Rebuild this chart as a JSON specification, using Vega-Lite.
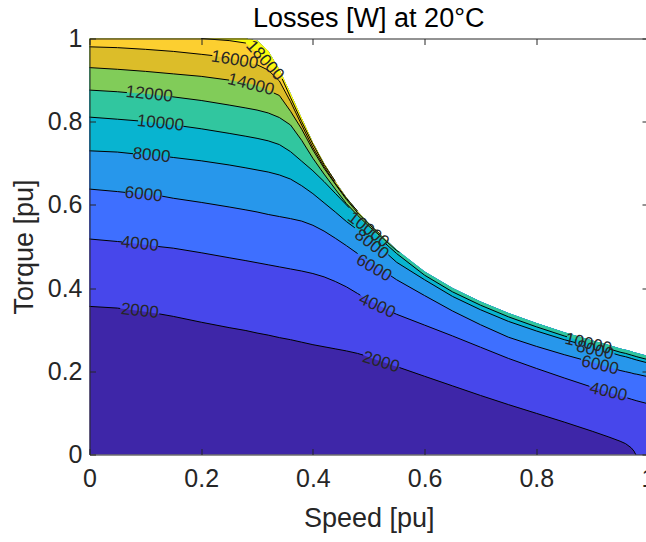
{
  "$schema": "https://vega.github.io/schema/vega-lite/v6.json",
  "autosize": {"type": "none"},
  "padding": {"left": 89.5, "top": 38.5, "right": -2, "bottom": 87.5},
  "width": 558.5,
  "height": 416,
  "background": "white",
  "config": {"font": "Liberation Sans", "view": {"stroke": null}, "text": {"fontSize": 17, "color": "#262626", "align": "center", "baseline": "middle"}},
  "title": {"text": "Losses [W] at 20°C", "fontSize": 27, "fontWeight": "normal", "color": "#000000", "font": "Liberation Sans", "anchor": "middle", "frame": "group", "offset": -6},
  "datasets": {
    "env": [
      {"speed":0,"tmax":1},{"speed":0.05,"tmax":1},{"speed":0.055,"tmax":1},{"speed":0.058,"tmax":1},{"speed":0.064,"tmax":1},{"speed":0.067,"tmax":1},{"speed":0.078,"tmax":1},{"speed":0.087,"tmax":1},{"speed":0.1,"tmax":1},{"speed":0.123,"tmax":1},{"speed":0.125,"tmax":1},{"speed":0.13,"tmax":1},{"speed":0.144,"tmax":1},{"speed":0.148,"tmax":1},{"speed":0.15,"tmax":1},{"speed":0.168,"tmax":1},{"speed":0.2,"tmax":1},{"speed":0.22,"tmax":1},{"speed":0.25,"tmax":1},{"speed":0.28,"tmax":1},{"speed":0.3,"tmax":0.995},{"speed":0.32,"tmax":0.97},{"speed":0.33,"tmax":0.948},{"speed":0.34,"tmax":0.925},{"speed":0.345,"tmax":0.911},{"speed":0.36,"tmax":0.868},{"speed":0.38,"tmax":0.808},{"speed":0.4,"tmax":0.75},{"speed":0.42,"tmax":0.7},{"speed":0.44,"tmax":0.657},{"speed":0.46,"tmax":0.618},{"speed":0.465,"tmax":0.61},{"speed":0.475,"tmax":0.594},{"speed":0.48,"tmax":0.585},{"speed":0.485,"tmax":0.578},{"speed":0.49,"tmax":0.57},{"speed":0.5,"tmax":0.556},{"speed":0.52,"tmax":0.53},{"speed":0.53,"tmax":0.517},{"speed":0.535,"tmax":0.511},{"speed":0.54,"tmax":0.505},{"speed":0.545,"tmax":0.498},{"speed":0.55,"tmax":0.492},{"speed":0.555,"tmax":0.486},{"speed":0.6,"tmax":0.44},{"speed":0.65,"tmax":0.4},{"speed":0.7,"tmax":0.368},{"speed":0.75,"tmax":0.34},{"speed":0.8,"tmax":0.316},{"speed":0.85,"tmax":0.294},{"speed":0.855,"tmax":0.292},{"speed":0.87,"tmax":0.286},{"speed":0.88,"tmax":0.282},{"speed":0.895,"tmax":0.276},{"speed":0.9,"tmax":0.274},{"speed":0.93,"tmax":0.263},{"speed":0.94,"tmax":0.259},{"speed":0.945,"tmax":0.257},{"speed":0.95,"tmax":0.255},{"speed":0.96,"tmax":0.252},{"speed":0.963,"tmax":0.251},{"speed":0.97,"tmax":0.248},{"speed":0.975,"tmax":0.246},{"speed":0.978,"tmax":0.245},{"speed":0.98,"tmax":0.244},{"speed":1,"tmax":0.237}
    ],
    "contours": [
      {"level":0,"speed":0,"torque":0,"seg":0},{"level":0,"speed":0.05,"torque":0,"seg":0},{"level":0,"speed":0.1,"torque":0,"seg":0},{"level":0,"speed":0.15,"torque":0,"seg":0},{"level":0,"speed":0.2,"torque":0,"seg":0},{"level":0,"speed":0.25,"torque":0,"seg":0},{"level":0,"speed":0.28,"torque":0,"seg":0},{"level":0,"speed":0.3,"torque":0,"seg":0},{"level":0,"speed":0.32,"torque":0,"seg":0},{"level":0,"speed":0.34,"torque":0,"seg":0},{"level":0,"speed":0.36,"torque":0,"seg":0},{"level":0,"speed":0.38,"torque":0,"seg":0},{"level":0,"speed":0.4,"torque":0,"seg":0},{"level":0,"speed":0.42,"torque":0,"seg":0},{"level":0,"speed":0.44,"torque":0,"seg":0},{"level":0,"speed":0.46,"torque":0,"seg":0},{"level":0,"speed":0.48,"torque":0,"seg":0},{"level":0,"speed":0.5,"torque":0,"seg":0},{"level":0,"speed":0.52,"torque":0,"seg":0},{"level":0,"speed":0.55,"torque":0,"seg":0},{"level":0,"speed":0.6,"torque":0,"seg":0},{"level":0,"speed":0.65,"torque":0,"seg":0},{"level":0,"speed":0.7,"torque":0,"seg":0},{"level":0,"speed":0.75,"torque":0,"seg":0},{"level":0,"speed":0.8,"torque":0,"seg":0},{"level":0,"speed":0.85,"torque":0,"seg":0},{"level":0,"speed":0.9,"torque":0,"seg":0},{"level":0,"speed":0.93,"torque":0,"seg":0},{"level":0,"speed":0.95,"torque":0,"seg":0},{"level":0,"speed":0.96,"torque":0,"seg":0},{"level":0,"speed":0.97,"torque":0,"seg":0},{"level":0,"speed":0.975,"torque":0,"seg":0},{"level":0,"speed":0.98,"torque":0,"seg":0},{"level":0,"speed":1,"torque":0,"seg":0},

      {"level":2000,"speed":0,"torque":0.356,"seg":1},{"level":2000,"speed":0.05,"torque":0.352,"seg":1},{"level":2000,"speed":0.055,"torque":0.351,"seg":1},{"level":2000,"speed":0.1,"torque":0.343,"seg":0},{"level":2000,"speed":0.125,"torque":0.338,"seg":2},{"level":2000,"speed":0.15,"torque":0.332,"seg":2},{"level":2000,"speed":0.2,"torque":0.318,"seg":2},{"level":2000,"speed":0.25,"torque":0.305,"seg":2},{"level":2000,"speed":0.28,"torque":0.298,"seg":2},{"level":2000,"speed":0.3,"torque":0.292,"seg":2},{"level":2000,"speed":0.32,"torque":0.287,"seg":2},{"level":2000,"speed":0.34,"torque":0.281,"seg":2},{"level":2000,"speed":0.36,"torque":0.276,"seg":2},{"level":2000,"speed":0.38,"torque":0.27,"seg":2},{"level":2000,"speed":0.4,"torque":0.264,"seg":2},{"level":2000,"speed":0.42,"torque":0.259,"seg":2},{"level":2000,"speed":0.44,"torque":0.254,"seg":2},{"level":2000,"speed":0.46,"torque":0.249,"seg":2},{"level":2000,"speed":0.48,"torque":0.243,"seg":2},{"level":2000,"speed":0.49,"torque":0.239,"seg":2},{"level":2000,"speed":0.5,"torque":0.234,"seg":0},{"level":2000,"speed":0.52,"torque":0.225,"seg":0},{"level":2000,"speed":0.55,"torque":0.211,"seg":0},{"level":2000,"speed":0.555,"torque":0.209,"seg":3},{"level":2000,"speed":0.6,"torque":0.188,"seg":3},{"level":2000,"speed":0.65,"torque":0.165,"seg":3},{"level":2000,"speed":0.7,"torque":0.142,"seg":3},{"level":2000,"speed":0.75,"torque":0.12,"seg":3},{"level":2000,"speed":0.8,"torque":0.099,"seg":3},{"level":2000,"speed":0.85,"torque":0.078,"seg":3},{"level":2000,"speed":0.9,"torque":0.056,"seg":3},{"level":2000,"speed":0.93,"torque":0.042,"seg":3},{"level":2000,"speed":0.95,"torque":0.032,"seg":3},{"level":2000,"speed":0.96,"torque":0.026,"seg":3},{"level":2000,"speed":0.97,"torque":0.016,"seg":3},{"level":2000,"speed":0.975,"torque":0.008,"seg":3},{"level":2000,"speed":0.978,"torque":0,"seg":3},{"level":2000,"speed":1,"torque":0,"seg":0},

      {"level":4000,"speed":0,"torque":0.518,"seg":1},{"level":4000,"speed":0.05,"torque":0.512,"seg":1},{"level":4000,"speed":0.058,"torque":0.511,"seg":1},{"level":4000,"speed":0.1,"torque":0.504,"seg":0},{"level":4000,"speed":0.123,"torque":0.5,"seg":2},{"level":4000,"speed":0.15,"torque":0.496,"seg":2},{"level":4000,"speed":0.2,"torque":0.485,"seg":2},{"level":4000,"speed":0.25,"torque":0.473,"seg":2},{"level":4000,"speed":0.28,"torque":0.466,"seg":2},{"level":4000,"speed":0.3,"torque":0.461,"seg":2},{"level":4000,"speed":0.32,"torque":0.456,"seg":2},{"level":4000,"speed":0.34,"torque":0.451,"seg":2},{"level":4000,"speed":0.36,"torque":0.446,"seg":2},{"level":4000,"speed":0.38,"torque":0.441,"seg":2},{"level":4000,"speed":0.4,"torque":0.435,"seg":2},{"level":4000,"speed":0.42,"torque":0.427,"seg":2},{"level":4000,"speed":0.44,"torque":0.416,"seg":2},{"level":4000,"speed":0.46,"torque":0.403,"seg":2},{"level":4000,"speed":0.48,"torque":0.387,"seg":2},{"level":4000,"speed":0.485,"torque":0.383,"seg":2},{"level":4000,"speed":0.5,"torque":0.372,"seg":0},{"level":4000,"speed":0.52,"torque":0.357,"seg":0},{"level":4000,"speed":0.545,"torque":0.34,"seg":3},{"level":4000,"speed":0.55,"torque":0.337,"seg":3},{"level":4000,"speed":0.6,"torque":0.311,"seg":3},{"level":4000,"speed":0.65,"torque":0.285,"seg":3},{"level":4000,"speed":0.7,"torque":0.258,"seg":3},{"level":4000,"speed":0.75,"torque":0.231,"seg":3},{"level":4000,"speed":0.8,"torque":0.207,"seg":3},{"level":4000,"speed":0.85,"torque":0.184,"seg":3},{"level":4000,"speed":0.895,"torque":0.164,"seg":3},{"level":4000,"speed":0.9,"torque":0.162,"seg":0},{"level":4000,"speed":0.93,"torque":0.149,"seg":0},{"level":4000,"speed":0.95,"torque":0.141,"seg":0},{"level":4000,"speed":0.96,"torque":0.137,"seg":0},{"level":4000,"speed":0.963,"torque":0.136,"seg":4},{"level":4000,"speed":0.97,"torque":0.133,"seg":4},{"level":4000,"speed":0.975,"torque":0.131,"seg":4},{"level":4000,"speed":0.98,"torque":0.129,"seg":4},{"level":4000,"speed":1,"torque":0.122,"seg":4},

      {"level":6000,"speed":0,"torque":0.638,"seg":1},{"level":6000,"speed":0.05,"torque":0.632,"seg":1},{"level":6000,"speed":0.064,"torque":0.63,"seg":1},{"level":6000,"speed":0.1,"torque":0.625,"seg":0},{"level":6000,"speed":0.13,"torque":0.621,"seg":2},{"level":6000,"speed":0.15,"torque":0.616,"seg":2},{"level":6000,"speed":0.2,"torque":0.606,"seg":2},{"level":6000,"speed":0.25,"torque":0.595,"seg":2},{"level":6000,"speed":0.28,"torque":0.588,"seg":2},{"level":6000,"speed":0.3,"torque":0.583,"seg":2},{"level":6000,"speed":0.32,"torque":0.577,"seg":2},{"level":6000,"speed":0.34,"torque":0.572,"seg":2},{"level":6000,"speed":0.36,"torque":0.567,"seg":2},{"level":6000,"speed":0.38,"torque":0.561,"seg":2},{"level":6000,"speed":0.4,"torque":0.551,"seg":2},{"level":6000,"speed":0.42,"torque":0.537,"seg":2},{"level":6000,"speed":0.44,"torque":0.52,"seg":2},{"level":6000,"speed":0.46,"torque":0.502,"seg":2},{"level":6000,"speed":0.48,"torque":0.483,"seg":2},{"level":6000,"speed":0.5,"torque":0.465,"seg":0},{"level":6000,"speed":0.52,"torque":0.447,"seg":0},{"level":6000,"speed":0.54,"torque":0.429,"seg":3},{"level":6000,"speed":0.55,"torque":0.42,"seg":3},{"level":6000,"speed":0.6,"torque":0.382,"seg":3},{"level":6000,"speed":0.65,"torque":0.345,"seg":3},{"level":6000,"speed":0.7,"torque":0.312,"seg":3},{"level":6000,"speed":0.75,"torque":0.282,"seg":3},{"level":6000,"speed":0.8,"torque":0.26,"seg":3},{"level":6000,"speed":0.85,"torque":0.24,"seg":3},{"level":6000,"speed":0.88,"torque":0.229,"seg":3},{"level":6000,"speed":0.9,"torque":0.222,"seg":0},{"level":6000,"speed":0.93,"torque":0.21,"seg":0},{"level":6000,"speed":0.945,"torque":0.204,"seg":4},{"level":6000,"speed":0.95,"torque":0.202,"seg":4},{"level":6000,"speed":0.96,"torque":0.199,"seg":4},{"level":6000,"speed":0.97,"torque":0.196,"seg":4},{"level":6000,"speed":0.975,"torque":0.194,"seg":4},{"level":6000,"speed":0.98,"torque":0.193,"seg":4},{"level":6000,"speed":1,"torque":0.187,"seg":4},

      {"level":8000,"speed":0,"torque":0.73,"seg":1},{"level":8000,"speed":0.05,"torque":0.727,"seg":1},{"level":8000,"speed":0.078,"torque":0.723,"seg":1},{"level":8000,"speed":0.1,"torque":0.721,"seg":0},{"level":8000,"speed":0.144,"torque":0.715,"seg":2},{"level":8000,"speed":0.15,"torque":0.714,"seg":2},{"level":8000,"speed":0.2,"torque":0.706,"seg":2},{"level":8000,"speed":0.25,"torque":0.696,"seg":2},{"level":8000,"speed":0.28,"torque":0.689,"seg":2},{"level":8000,"speed":0.3,"torque":0.684,"seg":2},{"level":8000,"speed":0.32,"torque":0.679,"seg":2},{"level":8000,"speed":0.34,"torque":0.672,"seg":2},{"level":8000,"speed":0.36,"torque":0.662,"seg":2},{"level":8000,"speed":0.38,"torque":0.646,"seg":2},{"level":8000,"speed":0.4,"torque":0.627,"seg":2},{"level":8000,"speed":0.42,"torque":0.605,"seg":2},{"level":8000,"speed":0.44,"torque":0.583,"seg":2},{"level":8000,"speed":0.46,"torque":0.56,"seg":2},{"level":8000,"speed":0.475,"torque":0.545,"seg":2},{"level":8000,"speed":0.48,"torque":0.54,"seg":0},{"level":8000,"speed":0.5,"torque":0.52,"seg":0},{"level":8000,"speed":0.52,"torque":0.497,"seg":0},{"level":8000,"speed":0.535,"torque":0.48,"seg":3},{"level":8000,"speed":0.55,"torque":0.462,"seg":3},{"level":8000,"speed":0.6,"torque":0.42,"seg":3},{"level":8000,"speed":0.65,"torque":0.38,"seg":3},{"level":8000,"speed":0.7,"torque":0.348,"seg":3},{"level":8000,"speed":0.75,"torque":0.32,"seg":3},{"level":8000,"speed":0.8,"torque":0.297,"seg":3},{"level":8000,"speed":0.85,"torque":0.276,"seg":3},{"level":8000,"speed":0.87,"torque":0.269,"seg":3},{"level":8000,"speed":0.9,"torque":0.257,"seg":0},{"level":8000,"speed":0.93,"torque":0.246,"seg":0},{"level":8000,"speed":0.94,"torque":0.242,"seg":4},{"level":8000,"speed":0.95,"torque":0.238,"seg":4},{"level":8000,"speed":0.96,"torque":0.235,"seg":4},{"level":8000,"speed":0.97,"torque":0.231,"seg":4},{"level":8000,"speed":0.975,"torque":0.229,"seg":4},{"level":8000,"speed":0.98,"torque":0.227,"seg":4},{"level":8000,"speed":1,"torque":0.22,"seg":4},

      {"level":10000,"speed":0,"torque":0.811,"seg":1},{"level":10000,"speed":0.05,"torque":0.806,"seg":1},{"level":10000,"speed":0.087,"torque":0.802,"seg":1},{"level":10000,"speed":0.1,"torque":0.8,"seg":0},{"level":10000,"speed":0.15,"torque":0.792,"seg":0},{"level":10000,"speed":0.168,"torque":0.789,"seg":2},{"level":10000,"speed":0.2,"torque":0.783,"seg":2},{"level":10000,"speed":0.25,"torque":0.772,"seg":2},{"level":10000,"speed":0.28,"torque":0.765,"seg":2},{"level":10000,"speed":0.3,"torque":0.76,"seg":2},{"level":10000,"speed":0.32,"torque":0.754,"seg":2},{"level":10000,"speed":0.34,"torque":0.745,"seg":2},{"level":10000,"speed":0.36,"torque":0.728,"seg":2},{"level":10000,"speed":0.38,"torque":0.705,"seg":2},{"level":10000,"speed":0.4,"torque":0.682,"seg":2},{"level":10000,"speed":0.42,"torque":0.656,"seg":2},{"level":10000,"speed":0.44,"torque":0.628,"seg":2},{"level":10000,"speed":0.46,"torque":0.6,"seg":2},{"level":10000,"speed":0.465,"torque":0.593,"seg":2},{"level":10000,"speed":0.48,"torque":0.571,"seg":0},{"level":10000,"speed":0.5,"torque":0.545,"seg":0},{"level":10000,"speed":0.52,"torque":0.52,"seg":0},{"level":10000,"speed":0.53,"torque":0.507,"seg":3},{"level":10000,"speed":0.55,"torque":0.483,"seg":3},{"level":10000,"speed":0.6,"torque":0.431,"seg":3},{"level":10000,"speed":0.65,"torque":0.391,"seg":3},{"level":10000,"speed":0.7,"torque":0.359,"seg":3},{"level":10000,"speed":0.75,"torque":0.331,"seg":3},{"level":10000,"speed":0.8,"torque":0.307,"seg":3},{"level":10000,"speed":0.85,"torque":0.285,"seg":3},{"level":10000,"speed":0.855,"torque":0.283,"seg":3},{"level":10000,"speed":0.9,"torque":0.265,"seg":0},{"level":10000,"speed":0.93,"torque":0.254,"seg":4},{"level":10000,"speed":0.95,"torque":0.246,"seg":4},{"level":10000,"speed":0.96,"torque":0.243,"seg":4},{"level":10000,"speed":0.97,"torque":0.239,"seg":4},{"level":10000,"speed":0.975,"torque":0.237,"seg":4},{"level":10000,"speed":0.98,"torque":0.235,"seg":4},{"level":10000,"speed":1,"torque":0.228,"seg":4},

      {"level":12000,"speed":0,"torque":0.876,"seg":1},{"level":12000,"speed":0.05,"torque":0.872,"seg":1},{"level":12000,"speed":0.067,"torque":0.87,"seg":1},{"level":12000,"speed":0.1,"torque":0.867,"seg":0},{"level":12000,"speed":0.148,"torque":0.86,"seg":2},{"level":12000,"speed":0.2,"torque":0.851,"seg":2},{"level":12000,"speed":0.25,"torque":0.84,"seg":2},{"level":12000,"speed":0.28,"torque":0.833,"seg":2},{"level":12000,"speed":0.3,"torque":0.828,"seg":2},{"level":12000,"speed":0.32,"torque":0.821,"seg":2},{"level":12000,"speed":0.34,"torque":0.81,"seg":2},{"level":12000,"speed":0.36,"torque":0.792,"seg":2},{"level":12000,"speed":0.38,"torque":0.755,"seg":2},{"level":12000,"speed":0.4,"torque":0.712,"seg":2},{"level":12000,"speed":0.42,"torque":0.674,"seg":2},{"level":12000,"speed":0.44,"torque":0.638,"seg":2},{"level":12000,"speed":0.46,"torque":0.603,"seg":2},{"level":12000,"speed":0.48,"torque":0.575,"seg":2},{"level":12000,"speed":0.5,"torque":0.549,"seg":2},{"level":12000,"speed":0.52,"torque":0.526,"seg":2},{"level":12000,"speed":0.55,"torque":0.49,"seg":2},{"level":12000,"speed":0.555,"torque":0.486,"seg":2},

      {"level":14000,"speed":0,"torque":0.93,"seg":1},{"level":14000,"speed":0.05,"torque":0.926,"seg":1},{"level":14000,"speed":0.1,"torque":0.921,"seg":1},{"level":14000,"speed":0.15,"torque":0.915,"seg":1},{"level":14000,"speed":0.2,"torque":0.909,"seg":1},{"level":14000,"speed":0.25,"torque":0.9,"seg":1},{"level":14000,"speed":0.28,"torque":0.893,"seg":0},{"level":14000,"speed":0.3,"torque":0.887,"seg":0},{"level":14000,"speed":0.32,"torque":0.875,"seg":0},{"level":14000,"speed":0.33,"torque":0.869,"seg":2},{"level":14000,"speed":0.34,"torque":0.863,"seg":2},{"level":14000,"speed":0.36,"torque":0.825,"seg":2},{"level":14000,"speed":0.38,"torque":0.782,"seg":2},{"level":14000,"speed":0.4,"torque":0.732,"seg":2},{"level":14000,"speed":0.42,"torque":0.688,"seg":2},{"level":14000,"speed":0.44,"torque":0.65,"seg":2},{"level":14000,"speed":0.46,"torque":0.613,"seg":2},{"level":14000,"speed":0.48,"torque":0.581,"seg":2},{"level":14000,"speed":0.5,"torque":0.554,"seg":2},{"level":14000,"speed":0.52,"torque":0.53,"seg":2},

      {"level":16000,"speed":0,"torque":0.98,"seg":1},{"level":16000,"speed":0.05,"torque":0.978,"seg":1},{"level":16000,"speed":0.1,"torque":0.974,"seg":1},{"level":16000,"speed":0.15,"torque":0.969,"seg":1},{"level":16000,"speed":0.2,"torque":0.962,"seg":1},{"level":16000,"speed":0.22,"torque":0.959,"seg":1},{"level":16000,"speed":0.25,"torque":0.952,"seg":0},{"level":16000,"speed":0.28,"torque":0.944,"seg":0},{"level":16000,"speed":0.3,"torque":0.937,"seg":2},{"level":16000,"speed":0.32,"torque":0.924,"seg":2},{"level":16000,"speed":0.34,"torque":0.898,"seg":2},{"level":16000,"speed":0.36,"torque":0.848,"seg":2},{"level":16000,"speed":0.38,"torque":0.792,"seg":2},{"level":16000,"speed":0.4,"torque":0.738,"seg":2},{"level":16000,"speed":0.42,"torque":0.692,"seg":2},{"level":16000,"speed":0.44,"torque":0.652,"seg":2},{"level":16000,"speed":0.46,"torque":0.616,"seg":2},{"level":16000,"speed":0.48,"torque":0.585,"seg":2},

      {"level":18000,"speed":0.2,"torque":1,"seg":1},{"level":18000,"speed":0.25,"torque":0.995,"seg":1},{"level":18000,"speed":0.28,"torque":0.989,"seg":1},{"level":18000,"speed":0.3,"torque":0.965,"seg":0},{"level":18000,"speed":0.32,"torque":0.935,"seg":0},{"level":18000,"speed":0.34,"torque":0.912,"seg":0},{"level":18000,"speed":0.345,"torque":0.903,"seg":2},{"level":18000,"speed":0.36,"torque":0.858,"seg":2},{"level":18000,"speed":0.38,"torque":0.8,"seg":2},{"level":18000,"speed":0.4,"torque":0.746,"seg":2},{"level":18000,"speed":0.42,"torque":0.697,"seg":2},{"level":18000,"speed":0.44,"torque":0.657,"seg":2}
    ],
    "labels": [
      {"text":"2000","speed":0.09,"torque":0.345,"grp":"left"},
      {"text":"4000","speed":0.09,"torque":0.506,"grp":"left"},
      {"text":"6000","speed":0.097,"torque":0.625,"grp":"left"},
      {"text":"8000","speed":0.111,"torque":0.719,"grp":"left"},
      {"text":"10000","speed":0.127,"torque":0.796,"grp":"left"},
      {"text":"12000","speed":0.107,"torque":0.866,"grp":"left"},
      {"text":"14000","speed":0.289,"torque":0.889,"grp":"c14"},
      {"text":"16000","speed":0.26,"torque":0.948,"grp":"c16"},
      {"text":"18000","speed":0.314,"torque":0.947,"grp":"c18"},
      {"text":"2000","speed":0.522,"torque":0.222,"grp":"m2"},
      {"text":"4000","speed":0.515,"torque":0.357,"grp":"m4"},
      {"text":"6000","speed":0.509,"torque":0.448,"grp":"m6"},
      {"text":"8000","speed":0.505,"torque":0.505,"grp":"m8"},
      {"text":"10000","speed":0.499,"torque":0.54,"grp":"m8"},
      {"text":"10000","speed":0.893,"torque":0.266,"grp":"right"},
      {"text":"8000","speed":0.905,"torque":0.25,"grp":"right"},
      {"text":"6000","speed":0.914,"torque":0.214,"grp":"right"},
      {"text":"4000","speed":0.929,"torque":0.15,"grp":"right"}
    ]
  },
  "resolve": {"axis": {"x": "independent", "y": "independent"}},
  "layer": [
    {
      "data": {"name": "contours"},
      "transform": [
        {"lookup": "speed", "from": {"data": {"name": "env"}, "key": "speed", "fields": ["tmax"]}}
      ],
      "mark": {"type": "area", "interpolate": "linear"},
      "encoding": {
        "x": {"field": "speed", "type": "quantitative", "scale": {"domain": [0, 1], "nice": false, "zero": false},
          "axis": {"orient": "bottom", "values": [0, 0.2, 0.4, 0.6, 0.8, 1], "format": "~g", "grid": false, "zindex": 1,
            "tickSize": -6, "tickColor": "#262626", "tickWidth": 1, "domainColor": "#262626", "domainWidth": 1,
            "labelFontSize": 25, "labelColor": "#262626", "labelPadding": 18, "labelFlush": false, "labelOverlap": false,
            "title": "Speed [pu]", "titleFontSize": 27, "titleFontWeight": "normal", "titleColor": "#262626", "titlePadding": 14}},
        "y": {"field": "torque", "type": "quantitative", "scale": {"domain": [0, 1], "nice": false, "zero": false},
          "axis": {"orient": "left", "values": [0, 0.2, 0.4, 0.6, 0.8, 1], "format": "~g", "grid": false, "zindex": 1,
            "tickSize": -6, "tickColor": "#262626", "tickWidth": 1, "domainColor": "#262626", "domainWidth": 1,
            "labelFontSize": 25, "labelColor": "#262626", "labelPadding": 13.5, "labelFlush": false, "labelOverlap": false,
            "title": "Torque [pu]", "titleFontSize": 27, "titleFontWeight": "normal", "titleColor": "#262626", "titlePadding": 9}},
        "y2": {"field": "tmax"},
        "color": {"field": "level", "type": "ordinal", "legend": null,
          "scale": {"domain": [0, 2000, 4000, 6000, 8000, 10000, 12000, 14000, 16000, 18000],
            "range": ["#3E26A8", "#4747EB", "#3E6FFF", "#2797EB", "#08B4D0", "#31C69F", "#81CC59", "#DCBD29", "#FCCF30", "#F9FB0E"]}}
      }
    },
    {
      "data": {"name": "contours"},
      "transform": [{"filter": "datum.level > 0 && datum.seg > 0"}],
      "mark": {"type": "line", "color": "#000000", "strokeWidth": 1, "interpolate": "linear"},
      "encoding": {
        "x": {"field": "speed", "type": "quantitative",
          "axis": {"orient": "top", "values": [0, 0.2, 0.4, 0.6, 0.8, 1], "labels": false, "title": null, "grid": false, "zindex": 1,
            "tickSize": -6, "tickColor": "#262626", "tickWidth": 1, "domainColor": "#262626", "domainWidth": 1}},
        "y": {"field": "torque", "type": "quantitative",
          "axis": {"orient": "right", "values": [0, 0.2, 0.4, 0.6, 0.8, 1], "labels": false, "title": null, "grid": false, "zindex": 1,
            "tickSize": -6, "tickColor": "#262626", "tickWidth": 1, "domainColor": "#262626", "domainWidth": 1}},
        "detail": [{"field": "level", "type": "nominal"}, {"field": "seg", "type": "nominal"}]
      }
    },
    {
      "data": {"name": "labels"}, "transform": [{"filter": "datum.grp === 'left'"}],
      "mark": {"type": "text", "angle": 6},
      "encoding": {"x": {"field": "speed", "type": "quantitative", "axis": null}, "y": {"field": "torque", "type": "quantitative", "axis": null}, "text": {"field": "text"}}
    },
    {
      "data": {"name": "labels"}, "transform": [{"filter": "datum.grp === 'c14'"}],
      "mark": {"type": "text", "angle": 14},
      "encoding": {"x": {"field": "speed", "type": "quantitative", "axis": null}, "y": {"field": "torque", "type": "quantitative", "axis": null}, "text": {"field": "text"}}
    },
    {
      "data": {"name": "labels"}, "transform": [{"filter": "datum.grp === 'c16'"}],
      "mark": {"type": "text", "angle": 9},
      "encoding": {"x": {"field": "speed", "type": "quantitative", "axis": null}, "y": {"field": "torque", "type": "quantitative", "axis": null}, "text": {"field": "text"}}
    },
    {
      "data": {"name": "labels"}, "transform": [{"filter": "datum.grp === 'c18'"}],
      "mark": {"type": "text", "angle": 48},
      "encoding": {"x": {"field": "speed", "type": "quantitative", "axis": null}, "y": {"field": "torque", "type": "quantitative", "axis": null}, "text": {"field": "text"}}
    },
    {
      "data": {"name": "labels"}, "transform": [{"filter": "datum.grp === 'm2'"}],
      "mark": {"type": "text", "angle": 17},
      "encoding": {"x": {"field": "speed", "type": "quantitative", "axis": null}, "y": {"field": "torque", "type": "quantitative", "axis": null}, "text": {"field": "text"}}
    },
    {
      "data": {"name": "labels"}, "transform": [{"filter": "datum.grp === 'm4'"}],
      "mark": {"type": "text", "angle": 24},
      "encoding": {"x": {"field": "speed", "type": "quantitative", "axis": null}, "y": {"field": "torque", "type": "quantitative", "axis": null}, "text": {"field": "text"}}
    },
    {
      "data": {"name": "labels"}, "transform": [{"filter": "datum.grp === 'm6'"}],
      "mark": {"type": "text", "angle": 30},
      "encoding": {"x": {"field": "speed", "type": "quantitative", "axis": null}, "y": {"field": "torque", "type": "quantitative", "axis": null}, "text": {"field": "text"}}
    },
    {
      "data": {"name": "labels"}, "transform": [{"filter": "datum.grp === 'm8'"}],
      "mark": {"type": "text", "angle": 38},
      "encoding": {"x": {"field": "speed", "type": "quantitative", "axis": null}, "y": {"field": "torque", "type": "quantitative", "axis": null}, "text": {"field": "text"}}
    },
    {
      "data": {"name": "labels"}, "transform": [{"filter": "datum.grp === 'right'"}],
      "mark": {"type": "text", "angle": 13},
      "encoding": {"x": {"field": "speed", "type": "quantitative", "axis": null}, "y": {"field": "torque", "type": "quantitative", "axis": null}, "text": {"field": "text"}}
    }
  ]
}
